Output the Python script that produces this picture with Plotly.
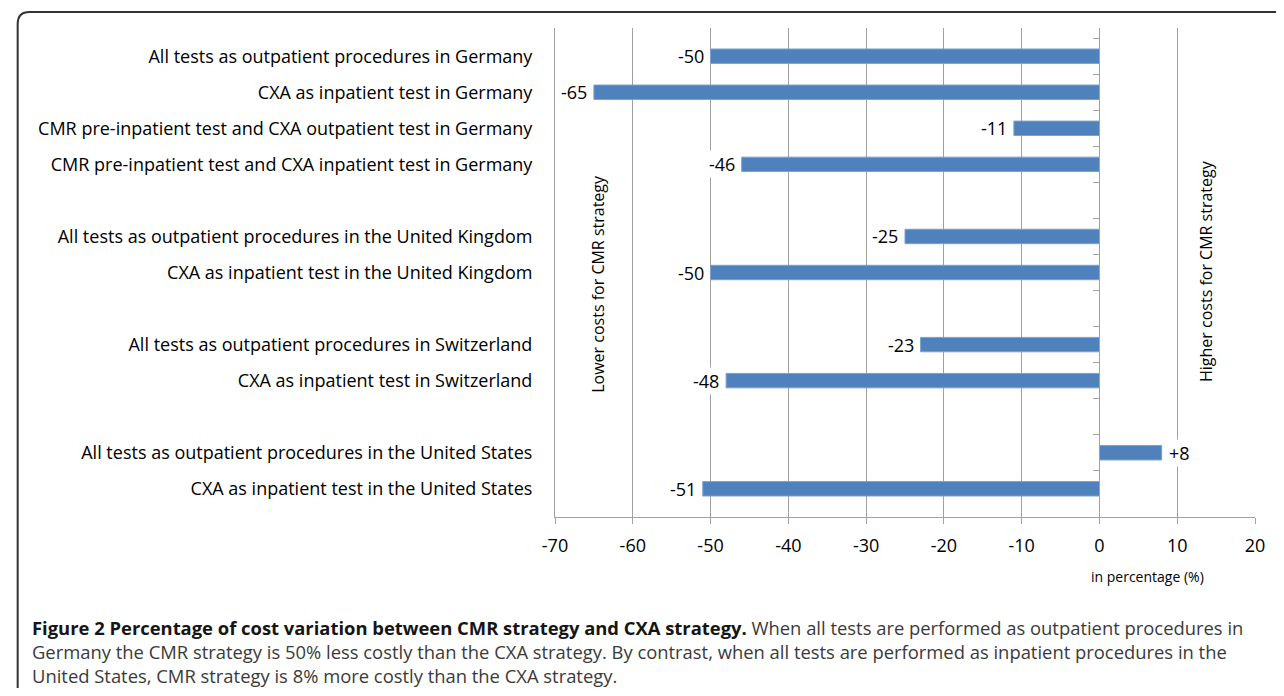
import plotly.graph_objects as go

# ---- data ----
categories = [
    "All tests as outpatient procedures in Germany",
    "CXA as inpatient test in Germany",
    "CMR pre-inpatient test and CXA outpatient test in Germany",
    "CMR pre-inpatient test and CXA inpatient test in Germany",
    " ",
    "All tests as outpatient procedures in the United Kingdom",
    "CXA as inpatient test in the United Kingdom",
    "  ",
    "All tests as outpatient procedures in Switzerland",
    "CXA as inpatient test in Switzerland",
    "   ",
    "All tests as outpatient procedures in the United States",
    "CXA as inpatient test in the United States",
]
values = [-50, -65, -11, -46, None, -25, -50, None, -23, -48, None, 8, -51]
x_ticks = [-70, -60, -50, -40, -30, -20, -10, 0, 10, 20]
x_tick_labels = ["-70", "-60", "-50", "-40", "-30", "-20", "-10", "0", "10", "20"]
x_range = [-70, 20]

caption_bold = "Figure 2 Percentage of cost variation between CMR strategy and CXA strategy."
caption_lines = [
    " When all tests are performed as outpatient procedures in",
    "Germany the CMR strategy is 50% less costly than the CXA strategy. By contrast, when all tests are performed as inpatient procedures in the",
    "United States, CMR strategy is 8% more costly than the CXA strategy.",
]

FONT = "Open Sans"
CAP = "Open Sans"
BAR = "rgb(79,129,189)"
GRID = "rgb(160,160,160)"

# page body has an 8px margin: compensate so the figure fills the window
O = 8
W, H = 1284 - 2 * O, 696 - 2 * O
L, T = 555 - O, 28 - O
R, B = W - (1265 - O), H - (517 - O)
pw, ph = W - L - R, H - T - B


def px_x(p):
    return (p - O - L) / pw


def px_y(p):
    return (H - B - (p - O)) / ph


fig = go.Figure()
fig.add_trace(go.Bar(
    x=values, y=categories, orientation="h",
    marker=dict(color=BAR, line=dict(color="rgb(125,160,205)", width=1)),
    hoverinfo="skip", showlegend=False,
))
# invisible trace for the zero axis with boundary ticks
fig.add_trace(go.Scatter(
    x=[0] * len(categories), y=categories, yaxis="y2", mode="markers",
    marker=dict(opacity=0), hoverinfo="skip", showlegend=False,
))

# data labels
for c, v in zip(categories, values):
    if v is None:
        continue
    txt = f"+{v}" if v > 0 else f"{v}"
    fig.add_annotation(
        x=v, y=c, xref="x", yref="y", text=txt, showarrow=False,
        xanchor="left" if v > 0 else "right",
        xshift=5 if v > 0 else -5,
        bgcolor="white", borderpad=1,
        font=dict(family=FONT, size=18, color="black"),
    )

fig.add_annotation(
    x=-64.5, y=px_y(284), xref="x", yref="paper", text="Lower costs for CMR strategy",
    textangle=-90, showarrow=False, xanchor="center", yanchor="middle",
    font=dict(family=FONT, size=16, color="black"),
)
fig.add_annotation(
    x=13.7, y=px_y(271), xref="x", yref="paper", text="Higher costs for CMR strategy",
    textangle=-90, showarrow=False, xanchor="center", yanchor="middle",
    font=dict(family=FONT, size=16, color="black"),
)
fig.add_annotation(
    x=px_x(1156), y=px_y(576), xref="paper", yref="paper", text="in percentage (%)",
    showarrow=False, xanchor="center", yanchor="middle",
    font=dict(family=FONT, size=14, color="black"),
)

# caption (one block of three lines)
CAP_SIZE = 18.4
caption_text = (
    f"<b><span style='color:#151515'>{caption_bold}</span></b>{caption_lines[0]}<br>"
    + "<br>".join(caption_lines[1:])
)
fig.add_annotation(
    x=px_x(22), y=px_y(651), xref="paper", yref="paper", xanchor="left", yanchor="middle",
    align="left", text=caption_text, showarrow=False,
    font=dict(family=CAP, size=CAP_SIZE, color="#3a3a3a"),
)

# rounded border
x0, y0, x1, y1, r = px_x(10), px_y(12), px_x(1300), px_y(720), 12
rx, ry = r / pw, r / ph
fig.add_shape(
    type="path", xref="paper", yref="paper",
    path=f"M {x0} {y1} L {x0} {y0 - ry} Q {x0} {y0} {x0 + rx} {y0} L {x1} {y0}",
    line=dict(color="#333333", width=2),
)

fig.update_layout(
    width=W, height=H, margin=dict(l=L, r=R, t=T, b=B),
    paper_bgcolor="white", plot_bgcolor="white",
    bargap=0.6,
    font=dict(family=FONT, size=18, color="black"),
    xaxis=dict(
        range=x_range, tickvals=x_ticks, ticktext=x_tick_labels,
        showgrid=True, gridcolor=GRID, gridwidth=1,
        zeroline=False, showline=True, linecolor=GRID, linewidth=1,
        ticks="outside", ticklen=6, tickcolor=GRID, ticklabelstandoff=6,
        tickfont=dict(family=FONT, size=18, color="black"),
    ),
    yaxis=dict(
        categoryorder="array", categoryarray=categories, autorange="reversed",
        showline=True, linecolor=GRID, linewidth=1, ticks="", showgrid=False,
        ticklabelstandoff=18, tickfont=dict(family=FONT, size=18, color="black"),
    ),
    yaxis2=dict(
        overlaying="y", matches="y", anchor="free", side="left",
        position=(0 - x_range[0]) / (x_range[1] - x_range[0]),
        showticklabels=False, showgrid=False, showline=True, linecolor=GRID, linewidth=1,
        ticks="outside", tickson="boundaries", ticklen=6, tickcolor=GRID,
        categoryorder="array", categoryarray=categories,
    ),
)

fig.write_html("out.html")
